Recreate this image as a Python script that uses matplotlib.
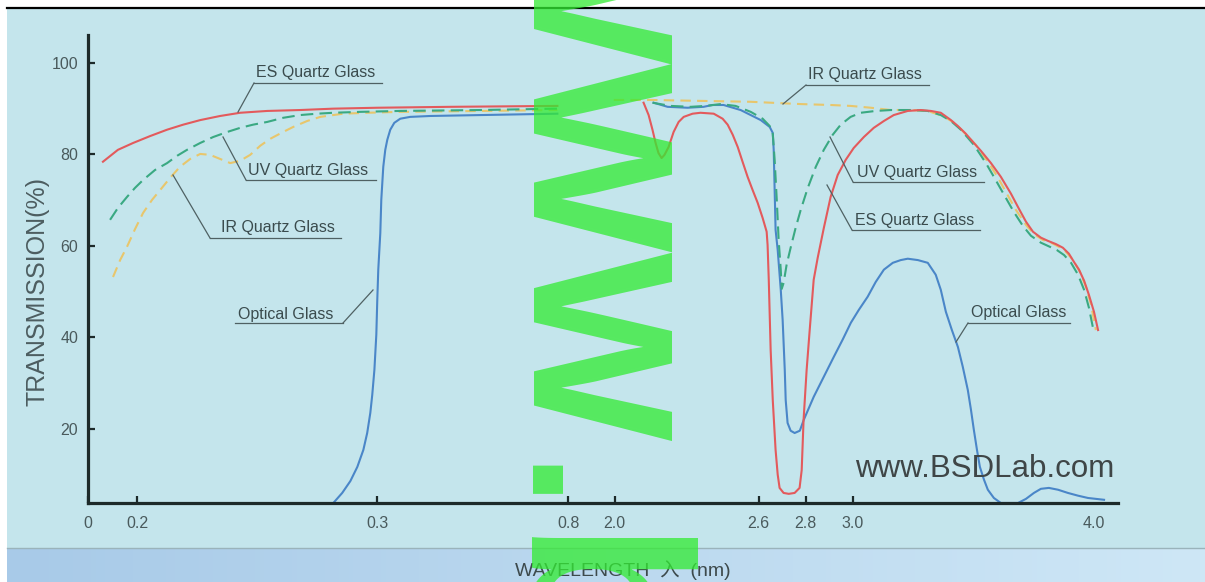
import numpy as np
import matplotlib
matplotlib.use("Agg")
import matplotlib.pyplot as plt
from matplotlib.patches import Rectangle
from matplotlib.lines import Line2D
from matplotlib.ticker import NullLocator

# ---------------- data (wavelength, transmission %) ----------------
tick_wl = [0, 0.2, 0.3, 0.8, 2.0, 2.6, 2.8, 3.0, 4.0]
tick_labels = ["0", "0.2", "0.3", "0.8", "2.0", "2.6", "2.8", "3.0", "4.0"]
y_ticks = [20, 40, 60, 80, 100]

es_left_wl = [0.061, 0.122, 0.184, 0.2054, 0.2125, 0.2192, 0.2263, 0.2346, 0.2429,
              0.2542, 0.2679, 0.2817, 0.300, 0.491, 0.771]
es_left_T = [78.4, 81.0, 82.5, 84.0, 85.4, 86.5, 87.5, 88.4, 89.1,
             89.5, 89.7, 90.0, 90.2, 90.4, 90.6]
es_right_wl = [2.121, 2.142, 2.158, 2.171, 2.183, 2.196, 2.208, 2.225, 2.246, 2.267,
               2.288, 2.325, 2.358, 2.413, 2.450, 2.471, 2.492, 2.513, 2.533, 2.554,
               2.575, 2.596, 2.617, 2.634, 2.638, 2.643, 2.651, 2.660, 2.672, 2.681,
               2.689, 2.706, 2.728, 2.753, 2.774, 2.783, 2.791, 2.804, 2.817, 2.834,
               2.851, 2.877, 2.906, 2.936, 2.970, 3.004, 3.046, 3.087, 3.129, 3.170,
               3.228, 3.282, 3.324, 3.365, 3.407, 3.436, 3.469, 3.502, 3.531, 3.573,
               3.614, 3.656, 3.685, 3.718, 3.747, 3.780, 3.809, 3.842, 3.871, 3.896,
               3.917, 3.938, 3.959, 3.979, 4.000, 4.017]
es_right_T = [91.3, 88.6, 85.4, 82.5, 80.3, 79.2, 79.9, 81.6, 84.9, 87.1,
              88.2, 88.9, 89.1, 88.9, 87.8, 86.5, 84.3, 81.6, 78.4, 75.1,
              72.2, 69.4, 66.1, 63.1, 60.2, 52.6, 37.3, 26.3, 15.4, 10.0,
              7.1, 6.0, 5.8, 6.0, 7.1, 11.0, 22.0, 32.9, 41.6, 52.6,
              57.4, 63.9, 70.7, 75.5, 78.8, 81.4, 83.8, 85.8, 87.3, 88.6,
              89.5, 89.7, 89.5, 89.1, 87.5, 86.2, 84.5, 82.5, 80.8, 78.1,
              75.1, 71.4, 68.5, 65.3, 63.1, 61.8, 61.1, 60.4, 59.6, 58.3,
              56.5, 54.8, 52.4, 49.3, 45.6, 41.6]

uv_left_wl = [0.090, 0.122, 0.159, 0.192, 0.2025, 0.2075, 0.2125, 0.2167, 0.2208,
              0.2263, 0.2317, 0.2375, 0.2429, 0.2483, 0.2542, 0.2608, 0.2679, 0.275,
              0.2817, 0.2929, 0.360, 0.570, 0.771]
uv_left_T = [65.7, 68.3, 70.7, 72.7, 74.4, 76.6, 78.1, 79.7, 81.0,
             82.5, 83.8, 84.9, 85.8, 86.5, 87.1, 88.0, 88.6, 88.9,
             89.1, 89.3, 89.5, 89.7, 90.0]
uv_right_wl = [2.158, 2.233, 2.317, 2.379, 2.442, 2.504, 2.567, 2.617, 2.647, 2.660,
               2.668, 2.677, 2.685, 2.694, 2.698, 2.706, 2.719, 2.736, 2.757, 2.779,
               2.809, 2.843, 2.877, 2.915, 2.949, 2.991, 3.033, 3.095, 3.158, 3.241,
               3.311, 3.365, 3.407, 3.448, 3.502, 3.552, 3.585, 3.627, 3.668, 3.705,
               3.739, 3.780, 3.809, 3.846, 3.876, 3.905, 3.934, 3.959, 3.979, 4.000]
uv_right_T = [91.3, 90.6, 90.4, 90.6, 91.0, 90.6, 89.3, 87.8, 86.2, 84.5,
              78.8, 70.1, 61.3, 54.8, 50.6, 51.9, 55.9, 59.6, 63.9, 67.9,
              72.7, 77.3, 81.0, 84.3, 86.5, 88.2, 89.1, 89.5, 89.7, 89.7,
              89.5, 88.6, 87.3, 85.4, 82.1, 78.1, 75.1, 71.2, 67.4, 64.4,
              62.2, 60.7, 60.0, 59.1, 58.0, 56.3, 53.7, 50.4, 46.5, 41.0]

ir_left_wl = [0.102, 0.131, 0.159, 0.192, 0.2025, 0.2063, 0.2096, 0.2138, 0.2179,
              0.2221, 0.2263, 0.2304, 0.2346, 0.2388, 0.2429, 0.2471, 0.2513, 0.2554,
              0.2608, 0.2650, 0.2708, 0.2763, 0.2858, 0.2958, 0.360, 0.570, 0.771]
ir_left_T = [53.2, 56.9, 59.8, 63.7, 67.2, 70.1, 72.2, 74.9, 77.3,
             79.0, 80.1, 79.9, 79.0, 78.1, 78.6, 79.9, 81.9, 83.4,
             84.9, 86.0, 87.3, 88.2, 88.9, 89.1, 89.3, 89.5, 89.7]
ir_right_wl = [1.98, 2.15, 2.358, 2.567, 2.779, 2.906, 2.991, 3.075, 3.158, 3.241,
               3.311, 3.373, 3.415, 3.456, 3.510, 3.560, 3.598, 3.639, 3.676, 3.718,
               3.751, 3.788, 3.822, 3.855, 3.884, 3.913, 3.942, 3.967, 3.988, 4.008]
ir_right_T = [91.9, 91.9, 91.7, 91.5, 91.0, 90.8, 90.6, 90.2, 89.7, 89.7,
              89.5, 88.4, 87.1, 85.1, 82.1, 78.4, 75.3, 71.4, 67.9, 64.6,
              62.6, 61.3, 60.7, 59.8, 58.7, 56.9, 54.3, 51.0, 47.1, 41.6]

opt_left_wl = [0.2817, 0.2854, 0.2888, 0.2917, 0.2942, 0.2958, 0.2971, 0.2979, 0.2988,
               0.2996, 0.300, 0.3026, 0.3079, 0.3105, 0.3157, 0.3209, 0.3262, 0.334,
               0.3445, 0.360, 0.386, 0.439, 0.570, 0.771]
opt_left_T = [3.8, 6.0, 8.6, 11.7, 15.4, 19.1, 23.5, 27.4, 32.9,
              40.6, 48.2, 54.8, 62.8, 70.1, 77.3, 81.0, 83.2, 85.4,
              86.9, 87.8, 88.2, 88.4, 88.6, 88.9]
opt_right_wl = [2.163, 2.221, 2.304, 2.371, 2.408, 2.454, 2.525, 2.609, 2.647, 2.660,
                2.664, 2.668, 2.672, 2.681, 2.694, 2.702, 2.711, 2.715, 2.723, 2.736,
                2.753, 2.775, 2.792, 2.834, 2.877, 2.919, 2.957, 2.992, 3.025, 3.062,
                3.095, 3.129, 3.166, 3.199, 3.228, 3.270, 3.311, 3.344, 3.365, 3.386,
                3.411, 3.436, 3.456, 3.477, 3.490, 3.502, 3.515, 3.527, 3.544, 3.560,
                3.585, 3.614, 3.685, 3.718, 3.751, 3.780, 3.813, 3.851, 3.892, 3.934,
                3.975, 4.042]
opt_right_T = [91.3, 90.4, 90.2, 90.4, 90.8, 90.8, 89.7, 87.5, 86.0, 84.7,
               81.0, 72.2, 63.5, 59.1, 50.4, 43.8, 32.9, 26.3, 21.3, 19.6,
               19.1, 19.6, 22.0, 27.0, 31.4, 35.7, 39.5, 43.2, 46.0, 48.9,
               52.1, 54.8, 56.3, 56.9, 57.2, 56.9, 56.3, 53.7, 50.4, 45.6,
               41.6, 37.9, 33.6, 28.5, 24.2, 19.8, 15.4, 11.7, 8.9, 6.7,
               4.9, 3.8, 3.8, 4.7, 6.0, 6.9, 7.1, 6.7, 6.0, 5.4,
               4.9, 4.5]

# ---------------- styling ----------------
W, H = 1205, 582
BG = "#c4e5ec"
AXC = "#1d2a2a"
TXT = "#3a4b4d"
RED = "#e35a5c"
GREEN = "#3aa982"
YELLOW = "#e8c66c"
BLUE = "#4a86c8"
plt.rcParams["font.family"] = ["Liberation Sans", "DejaVu Sans"]

fig = plt.figure(figsize=(W / 100, H / 100), dpi=100)
fig.patch.set_facecolor("white")


def fx(px):
    return px / W


def fy(py):
    return 1 - py / H


# background panels
fig.add_artist(Rectangle((fx(7), fy(548)), 1 - fx(7), (548 - 9) / H,
                         transform=fig.transFigure, facecolor=BG,
                         edgecolor="none", zorder=-10))
bax = fig.add_axes([fx(7), 0, 1 - fx(7), fy(549)])
bax.set_zorder(-5)
grad = np.linspace(0, 1, 256)[None, :, None]
c0 = np.array([168, 202, 232]) / 255
c1 = np.array([206, 231, 246]) / 255
bax.imshow(c0 + (c1 - c0) * grad, aspect="auto", extent=(0, 1, 0, 1))
bax.axis("off")
fig.add_artist(Line2D([fx(7), 1], [fy(548), fy(548)], transform=fig.transFigure,
                      color="#9ab3bb", lw=1.0, zorder=-4))
fig.add_artist(Line2D([fx(7), 1], [fy(8), fy(8)], transform=fig.transFigure,
                      color="black", lw=1.6, zorder=1))

# main axes with piecewise wavelength scale
ax = fig.add_axes([fx(88), fy(503), fx(1118) - fx(88), (503 - 35) / H])
ax.set_facecolor("none")
bp_wl = [0, 0.2, 0.3, 0.8, 2.0, 2.6, 2.8, 3.0, 4.0, 4.1]
bp_pos = [88, 137, 377, 568, 614, 758, 805, 852, 1093, 1117]


def fwd(x):
    return np.interp(x, bp_wl, bp_pos)


def inv(p):
    return np.interp(p, bp_pos, bp_wl)


ax.set_xscale("function", functions=(fwd, inv))
ax.set_xlim(0, 4.1)
ax.set_ylim(3.8, 106.1)

ax.plot(opt_left_wl, opt_left_T, color=BLUE, lw=1.5)
ax.plot(opt_right_wl, opt_right_T, color=BLUE, lw=1.5)
ax.plot(ir_left_wl, ir_left_T, color=YELLOW, lw=1.5, dashes=(5, 3))
ax.plot(ir_right_wl, ir_right_T, color=YELLOW, lw=1.5, dashes=(5, 3))
ax.plot(uv_left_wl, uv_left_T, color=GREEN, lw=1.5, dashes=(6, 3))
ax.plot(uv_right_wl, uv_right_T, color=GREEN, lw=1.5, dashes=(6, 3))
ax.plot(es_left_wl, es_left_T, color=RED, lw=1.5)
ax.plot(es_right_wl, es_right_T, color=RED, lw=1.5)

for s in ("top", "right"):
    ax.spines[s].set_visible(False)
for s in ("left", "bottom"):
    ax.spines[s].set_linewidth(2.3)
    ax.spines[s].set_color(AXC)

ax.set_xticks(tick_wl)
ax.set_xticklabels(tick_labels)
ax.xaxis.set_minor_locator(NullLocator())
ax.set_yticks(y_ticks)
ax.tick_params(axis="both", direction="in", length=5, width=1.6, color=AXC,
               labelsize=11.5, labelcolor="#4a5a5c")
ax.tick_params(axis="x", pad=9)
ax.tick_params(axis="y", pad=7)
ax.xaxis.get_major_ticks()[-1].tick1line.set_visible(False)
ax.get_xticklabels()[0].set_x(0.016)

fig.text(fx(38), fy(292), "TRANSMISSION(%)", rotation=90, fontsize=18,
         color="#4d5d60", ha="center", va="center")
fig.text(fx(515), fy(570), "WAVELENGTH  \u5165  (nm)", fontsize=14,
         color="#3d4a4c", ha="left", va="center",
         family=["Liberation Sans", "Noto Sans CJK SC"])
fig.text(fx(985), fy(469), "www.BSDLab.com", fontsize=22.5, color="#3f4647",
         ha="center", va="center")

# curve labels: text, text x, text y, underline x0, x1, y, leader end x, y
labels = [
    ("ES Quartz Glass", 256, 73, 254, 382, 83, 238, 112, "left"),
    ("UV Quartz Glass", 248, 170, 246, 376, 180, 223, 137, "left"),
    ("IR Quartz Glass", 221, 228, 210, 341, 238, 173, 175, "left"),
    ("Optical Glass", 238, 314, 235, 343, 323, 373, 290, "right"),
    ("IR Quartz Glass", 808, 75, 806, 929, 85, 783, 104, "left"),
    ("UV Quartz Glass", 857, 172, 853, 984, 182, 830, 137, "left"),
    ("ES Quartz Glass", 855, 221, 852, 980, 230, 827, 185, "left"),
    ("Optical Glass", 971, 313, 968, 1070, 323, 956, 342, "left"),
]
for txt, tx, ty, ux0, ux1, uy, lx, ly, side in labels:
    fig.text(fx(tx), fy(ty), txt, fontsize=11.5, color=TXT, ha="left",
             va="center", zorder=4)
    fig.add_artist(Line2D([fx(ux0), fx(ux1)], [fy(uy), fy(uy)],
                          transform=fig.transFigure, color="#4f6163", lw=0.9,
                          zorder=4))
    sx = ux0 if side == "left" else ux1
    fig.add_artist(Line2D([fx(sx), fx(lx)], [fy(uy), fy(ly)],
                          transform=fig.transFigure, color="#4f6163", lw=0.9,
                          zorder=4))

# green watermark overlay
wm = dict(fontweight="bold", color=(0.2, 0.92, 0.2), alpha=0.76,
          rotation=-90, rotation_mode="anchor", ha="left", va="baseline",
          zorder=20, family="Liberation Sans")
fig.text(fx(533), fy(-125), "WWW", fontsize=144, **wm)
fig.text(fx(518), fy(464), ".", fontsize=144, **wm)
fig.text(fx(516), fy(536), "b", fontsize=165, **wm)

fig.savefig("out.png", dpi=100, facecolor=fig.get_facecolor())
